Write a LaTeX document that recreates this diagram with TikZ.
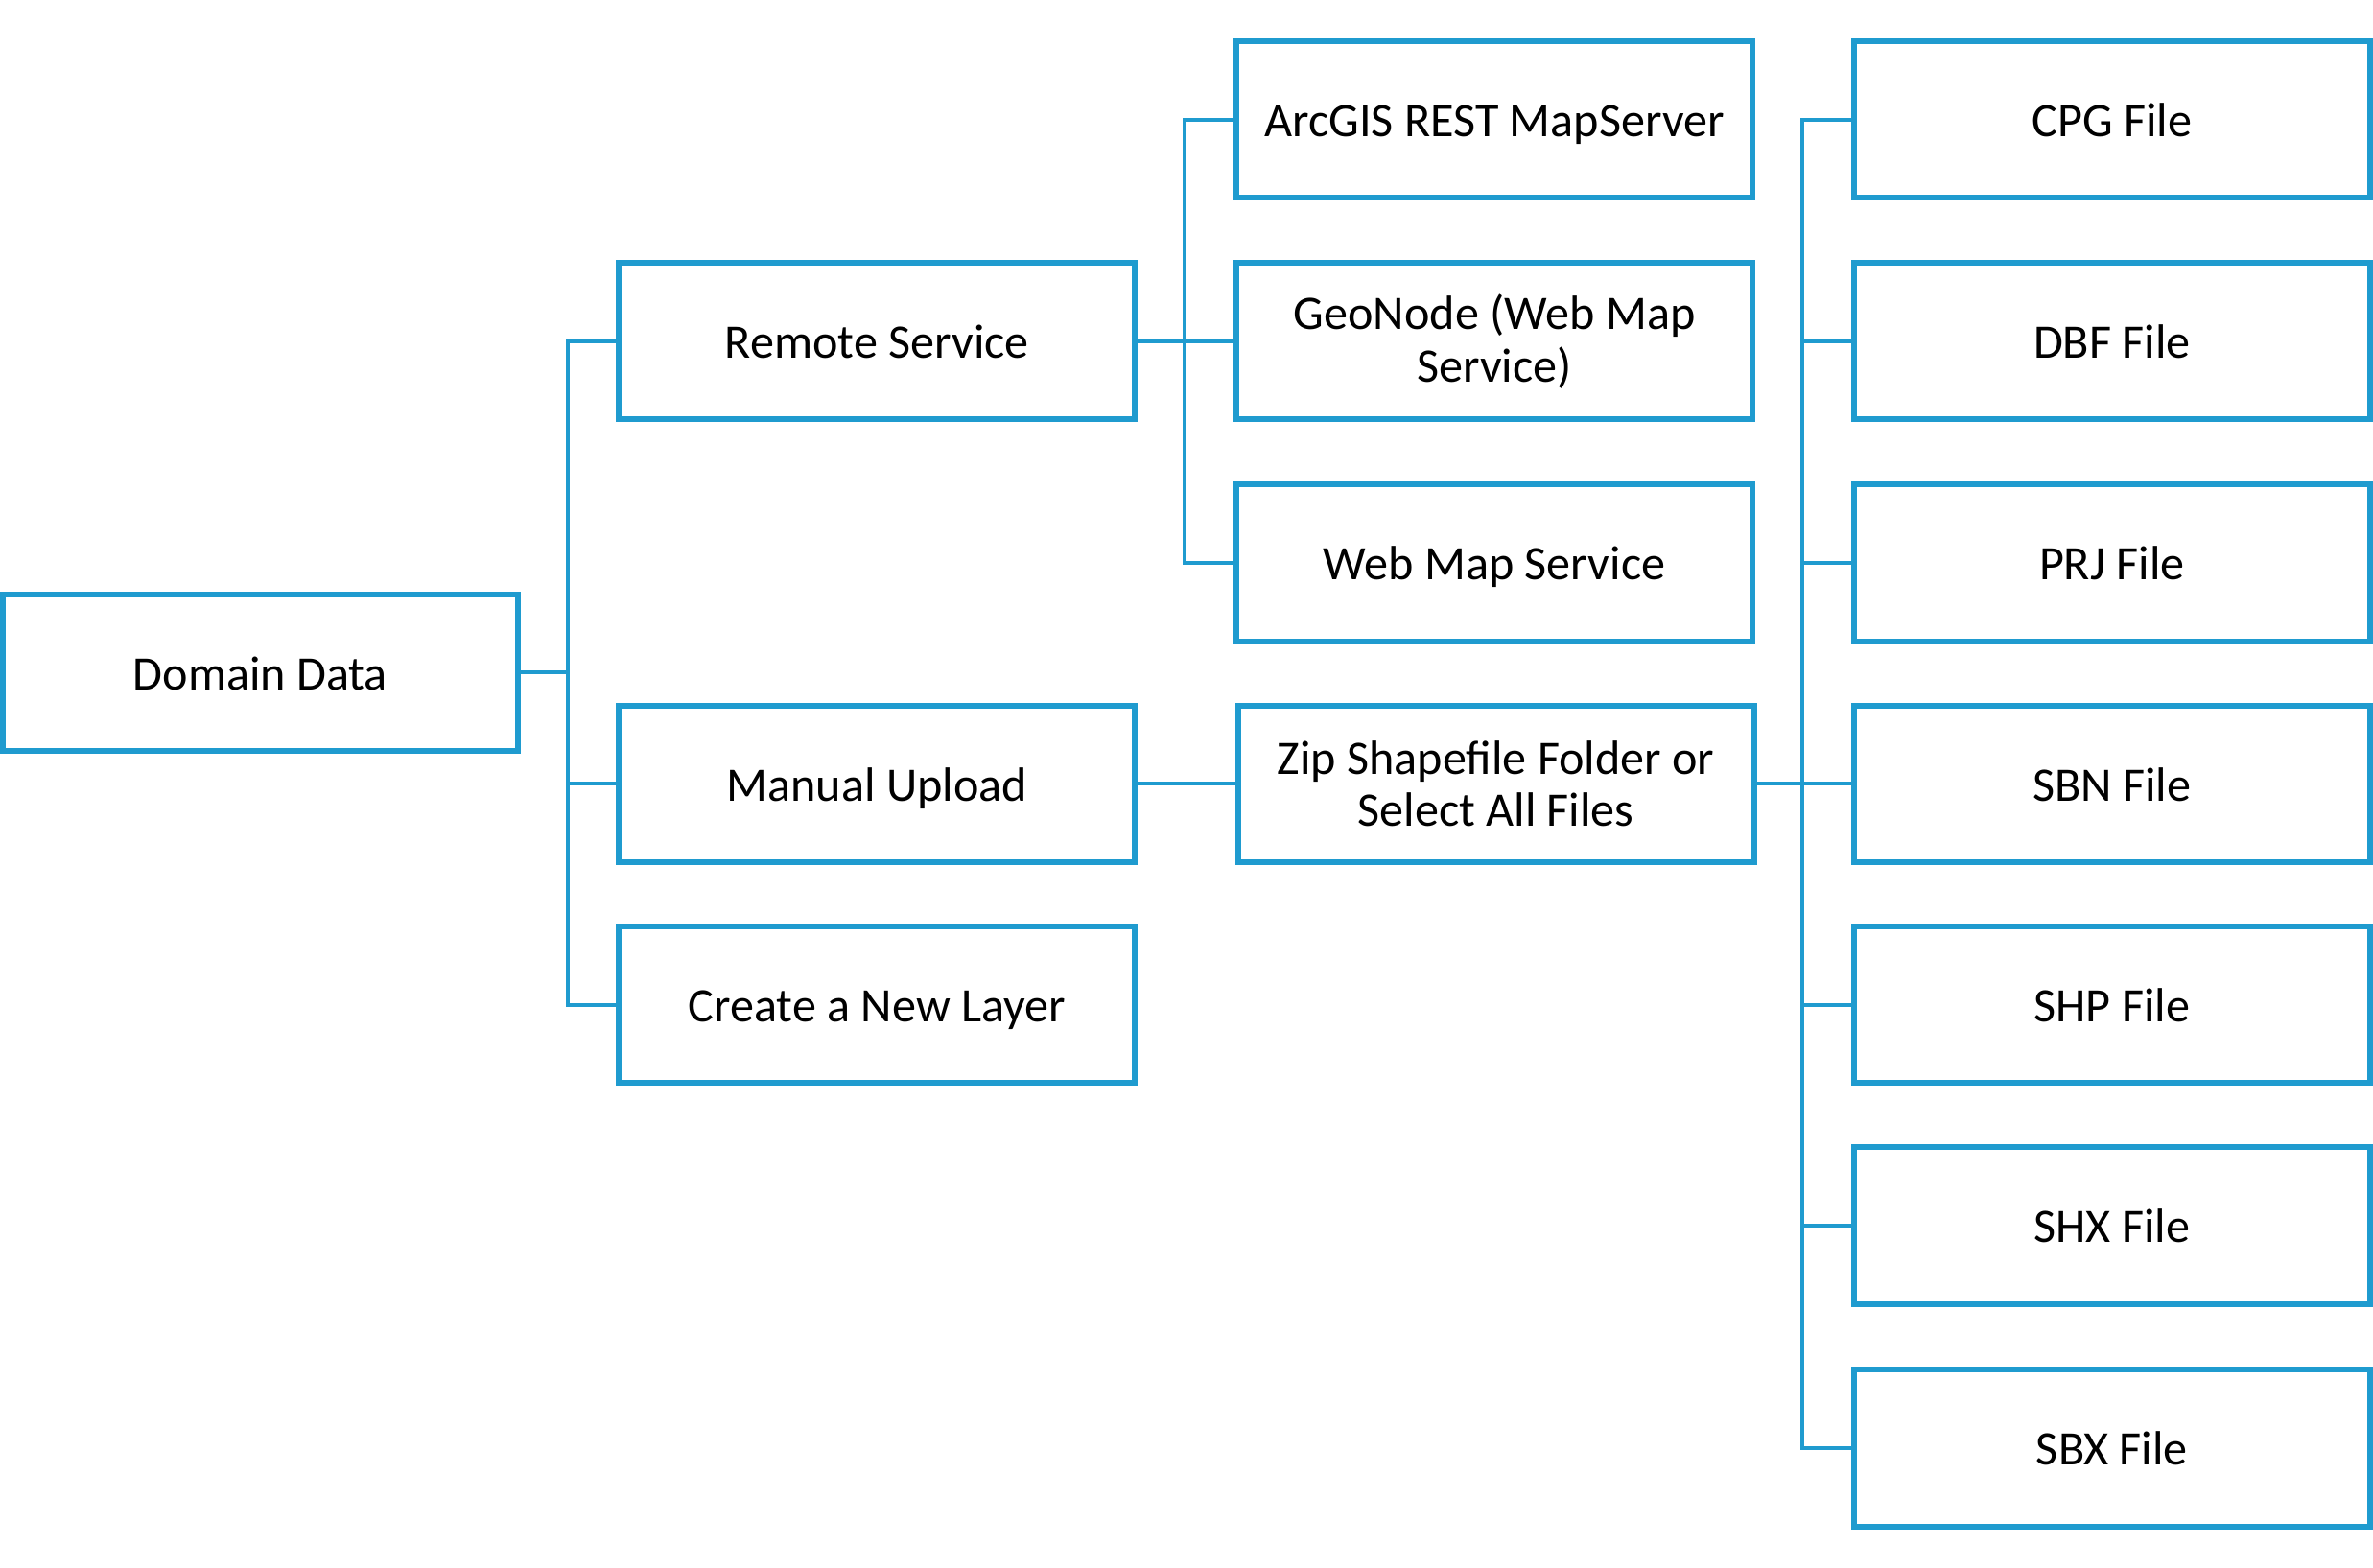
\documentclass[tikz,border=0pt]{standalone}
\usepackage{fontspec}
\setmainfont{Carlito}
\definecolor{boxblue}{HTML}{1F9BCF}
\begin{document}
\begin{tikzpicture}[x=0.1mm,y=-0.1mm,
  box/.style={draw=boxblue,line width=1.1pt,minimum width=34.1mm,minimum height=10.35mm,
    inner sep=0pt,align=center,font=\fontsize{9.05}{9.9}\selectfont,text=black,
    text height=0.75em,text depth=0.11em},
  twoline/.style={text height={},text depth={}},
  conn/.style={draw=boxblue,line width=0.7pt}]
\useasboundingbox (0,0) rectangle (1568,1036);
\node[box,minimum width=34mm] (dd) at (172,444.5) {Domain Data};
\node[box] (rs) at (579.5,225.5) {Remote Service};
\node[box] (mu) at (579.5,518) {Manual Upload};
\node[box] (cl) at (579.5,664) {Create a New Layer};
\node[box] (arc) at (987.5,79) {ArcGIS REST MapServer};
\node[box,twoline] (geo) at (987.5,225.5) {GeoNode (Web Map\\Service)};
\node[box] (wms) at (987.5,372) {Web Map Service};
\node[box,twoline] (zip) at (988.5,518) {Zip Shapefile Folder or\\Select All Files};
\node[box] (cpg) at (1395.5,79) {CPG File};
\node[box] (dbf) at (1395.5,225.5) {DBF File};
\node[box] (prj) at (1395.5,372) {PRJ File};
\node[box] (sbn) at (1395.5,518) {SBN File};
\node[box] (shp) at (1395.5,664) {SHP File};
\node[box] (shx) at (1395.5,810) {SHX File};
\node[box] (sbx) at (1395.5,957) {SBX File};
\coordinate (b1) at (375,444.5);
\coordinate (b2) at (783,225.5);
\coordinate (b3) at (1191,518);
% Domain Data bus
\draw[conn] (dd.east) -- (b1);
\draw[conn] (rs.west) -| (b1) |- (cl.west);
\draw[conn] (b1 |- mu.west) -- (mu.west);
% Remote Service bus
\draw[conn] (rs.east) -- (geo.west);
\draw[conn] (arc.west) -| (b2) |- (wms.west);
% Manual upload
\draw[conn] (mu.east) -- (zip.west);
% Zip bus
\draw[conn] (zip.east) -- (sbn.west);
\draw[conn] (cpg.west) -| (b3) |- (sbx.west);
\draw[conn] (b3 |- dbf.west) -- (dbf.west);
\draw[conn] (b3 |- prj.west) -- (prj.west);
\draw[conn] (b3 |- shp.west) -- (shp.west);
\draw[conn] (b3 |- shx.west) -- (shx.west);
\end{tikzpicture}
\end{document}
